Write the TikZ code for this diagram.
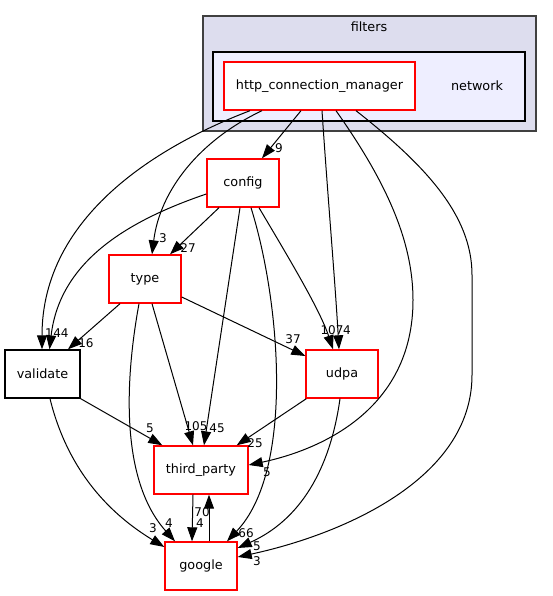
\documentclass[tikz,border=0pt]{standalone}
\usepackage{fontspec}
\setmainfont{DejaVu Sans}
\usetikzlibrary{arrows.meta}
\definecolor{clusterfill}{HTML}{DDDDEE}
\definecolor{clusterline}{HTML}{404040}
\definecolor{innerfill}{HTML}{EEEEFF}
\begin{document}
\begin{tikzpicture}[x=1pt,y=-1pt,
    dirbox/.style={draw=red, fill=white, line width=1.4pt, minimum height=48pt,
      inner sep=0pt, font=\fontsize{12.8}{15}\selectfont},
    plainbox/.style={dirbox, draw=black},
    dep/.style={line width=1pt, -{Triangle[length=14pt,width=10pt]}},
    cnt/.style={inner sep=0pt, font=\fontsize{12}{14}\selectfont}]
  \useasboundingbox (0,0) rectangle (552,596);
  % clusters
  \draw [fill=clusterfill, draw=clusterline, line width=2pt] (203,16) rectangle (536,131);
  \node [cnt, font=\fontsize{12.8}{15}\selectfont] (filters) at (369,27) {filters};
  \draw [fill=innerfill, draw=black, line width=1.4pt] (213,52) rectangle (525,121);
  \node [font=\fontsize{12.8}{15}\selectfont] (network) at (477,86) {network};
  % directories
  \node [dirbox, minimum width=191pt] (hcm) at (319.5,86) {http\_connection\_manager};
  \node [dirbox, minimum width=72pt] (config) at (243,183) {config};
  \node [dirbox, minimum width=72pt] (type) at (145,279) {type};
  \node [plainbox, minimum width=75pt] (validate) at (42.5,374) {validate};
  \node [dirbox, minimum width=72pt] (udpa) at (342,374) {udpa};
  \node [dirbox, minimum width=94pt] (thirdparty) at (201,470) {third\_party};
  \node [dirbox, minimum width=72pt] (google) at (201,566) {google};
  % from http_connection_manager
  \draw [dep] ([xshift=-69.5pt]hcm.south) .. controls (160,145) and (42,215) .. ([xshift=-0.5pt]validate.north);
  \draw [dep] ([xshift=-57.5pt]hcm.south) .. controls (200,140) and (160,190) .. ([xshift=7pt]type.north);
  \draw [dep] ([xshift=-18.5pt]hcm.south) -- ([xshift=19pt]config.north);
  \draw [dep] ([xshift=2.5pt]hcm.south) .. controls (328,200) and (335,280) .. ([xshift=-3pt]udpa.north);
  \draw [dep] ([xshift=16.5pt]hcm.south) .. controls (385,180) and (413,240) .. (413,300)
    .. controls (413,410) and (320,450) .. ([yshift=5pt]thirdparty.east);
  \draw [dep] ([xshift=36.5pt]hcm.south) .. controls (425,165) and (472,215) .. (472,275)
    -- (472,375) .. controls (472,480) and (340,535) .. ([yshift=9pt]google.east);
  % from config
  \draw [dep] ([yshift=-11pt]config.west) .. controls (130,220) and (60,260) .. ([xshift=7pt]validate.north);
  \draw [dep] ([xshift=-24pt]config.south) -- ([xshift=25pt]type.north);
  \draw [dep] ([xshift=-3pt]config.south) -- ([xshift=3pt]thirdparty.north);
  \draw [dep] ([xshift=8pt]config.south) .. controls (280,300) and (295,470) .. ([xshift=26pt]google.north);
  \draw [dep] ([xshift=16pt]config.south) .. controls (290,260) and (320,310) .. ([xshift=-9pt]udpa.north);
  % from type
  \draw [dep] ([xshift=-25pt]type.south) -- ([xshift=25.5pt]validate.north);
  \draw [dep] ([yshift=-18pt]type.east) -- ([yshift=18pt]udpa.west);
  \draw [dep] ([xshift=7pt]type.south) -- ([xshift=-8pt]thirdparty.north);
  \draw [dep] ([xshift=-6pt]type.south) .. controls (125,380) and (120,480) .. ([xshift=-26pt]google.north);
  % from validate
  \draw [dep] (validate.south east) -- ([xshift=9pt]thirdparty.north west);
  \draw [dep] ([xshift=7.5pt]validate.south) .. controls (70,480) and (120,520) .. ([yshift=19pt]google.west);
  % from udpa
  \draw [dep] ([xshift=1pt]udpa.south west) -- ([xshift=-12pt]thirdparty.north east);
  \draw [dep] ([xshift=-2pt]udpa.south) .. controls (330,470) and (300,520) .. ([yshift=18pt]google.east);
  % third_party <-> google
  \draw [dep] ([xshift=-8pt]thirdparty.south) -- ([xshift=-9pt]google.north);
  \draw [dep] ([xshift=8pt]google.north) -- ([xshift=8pt]thirdparty.south);
  % counts
  \node [cnt] (c-hv) at (49,333) {1};
  \node [cnt] (c-ht) at (163,238) {3};
  \node [cnt] (c-hc) at (279,148) {9};
  \node [cnt] (c-hu) at (347,330) {4};
  \node [cnt] (c-hp) at (267,472) {5};
  \node [cnt] (c-hg) at (257,561) {3};
  \node [cnt] (c-cv) at (61,333) {44};
  \node [cnt] (c-ct) at (188,248) {27};
  \node [cnt] (c-cp) at (217,428) {45};
  \node [cnt] (c-cg) at (246,533) {66};
  \node [cnt] (c-cu) at (332,330) {107};
  \node [cnt] (c-tv) at (86,343) {16};
  \node [cnt] (c-tu) at (293,339) {37};
  \node [cnt] (c-tp) at (196,426) {105};
  \node [cnt] (c-tg) at (169,523) {4};
  \node [cnt] (c-vp) at (150,428) {5};
  \node [cnt] (c-vg) at (153,528) {3};
  \node [cnt] (c-up) at (255,443) {25};
  \node [cnt] (c-ug) at (257,546) {5};
  \node [cnt] (c-pg) at (200,523) {4};
  \node [cnt] (c-gp) at (202,512) {70};
\end{tikzpicture}
\end{document}
